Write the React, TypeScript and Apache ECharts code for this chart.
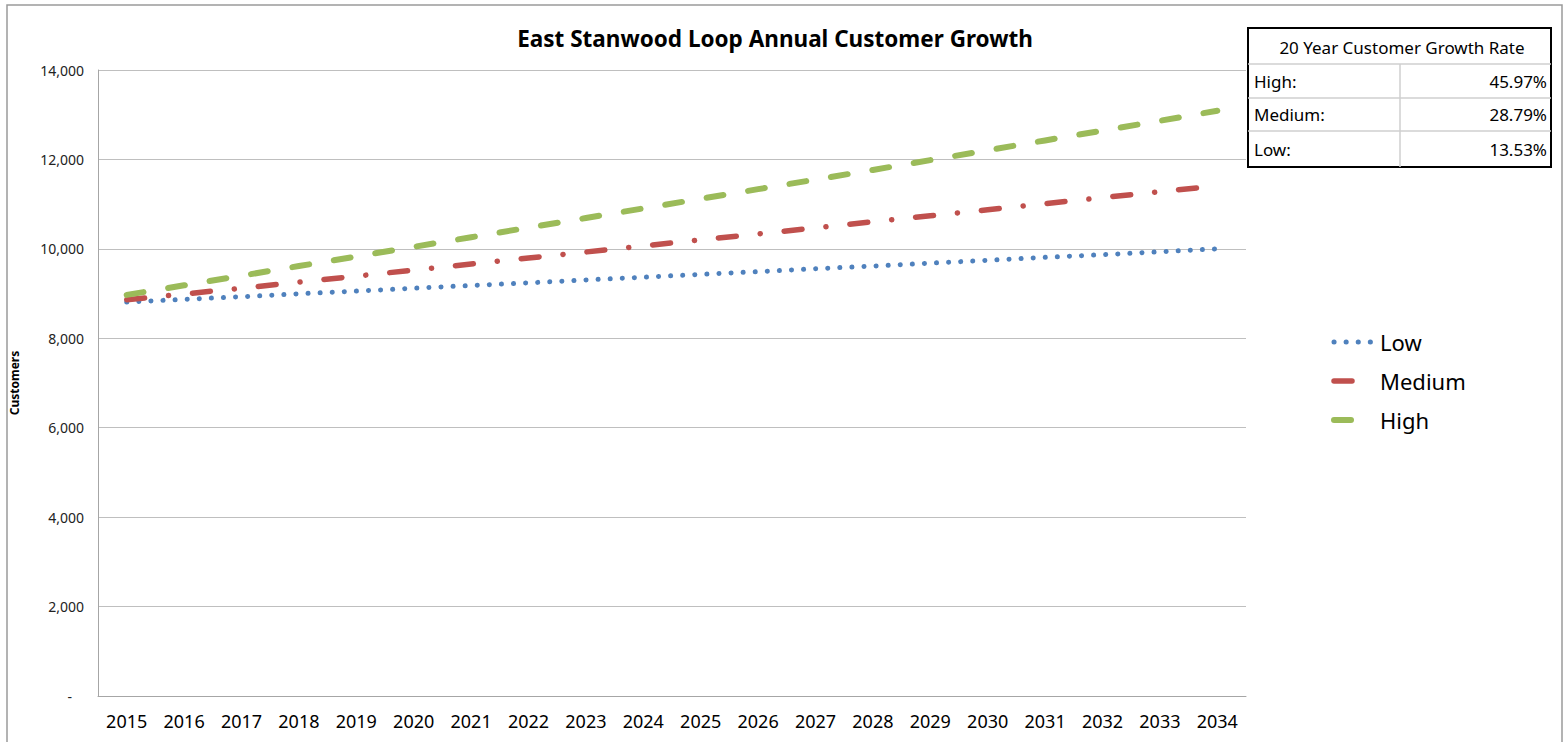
import React, { useEffect, useRef } from "react";
import * as echarts from "echarts";

const years = ["2015","2016","2017","2018","2019","2020","2021","2022","2023","2024","2025","2026","2027","2028","2029","2030","2031","2032","2033","2034"];
const lowValues = [8810, 8870, 8930, 8995, 9055, 9120, 9180, 9240, 9305, 9365, 9430, 9490, 9555, 9615, 9680, 9745, 9810, 9870, 9935, 10000];
const mediumValues = [8860, 8990, 9120, 9255, 9390, 9525, 9660, 9795, 9930, 10065, 10200, 10335, 10470, 10605, 10740, 10875, 11010, 11145, 11280, 11410];
const highValues = [8970, 9185, 9400, 9615, 9830, 10045, 10260, 10475, 10690, 10905, 11120, 11335, 11550, 11765, 11985, 12205, 12425, 12645, 12865, 13090];
const seriesNames = ["Low", "Medium", "High"];
const tableTitle = "20 Year Customer Growth Rate";
const tableLabels = ["High:", "Medium:", "Low:"];
const tableRates = ["45.97%", "28.79%", "13.53%"];

const FONT = "'Noto Sans', sans-serif";
const COLORS = ["#4F81BD", "#C0504D", "#9BBB59"];
const DASHES: number[][] = [[0.1, 12], [18, 24, 0.1, 24], [17, 25]];
const WIDTHS = [5, 5.5, 6];

export default function App() {
  const ref = useRef<HTMLDivElement>(null);
  useEffect(() => {
    if (!ref.current) return;
    const chart = echarts.init(ref.current, null, { renderer: "svg" });

    const tX = 1248, tY = 28, tW = 303, tH = 139;
    const rowY = [64, 98, 131, 167];
    const divX = 1400;
    const graphics: any[] = [
      { type: "rect", shape: { x: 7, y: 5, width: 1555, height: 760 }, style: { fill: "none", stroke: "#9A9A9A", lineWidth: 1.5 }, silent: true },
      { type: "rect", shape: { x: tX, y: tY, width: tW, height: tH }, style: { fill: "#fff", stroke: "#000", lineWidth: 2 }, z: 10 },
      { type: "line", shape: { x1: tX, y1: rowY[0], x2: tX + tW, y2: rowY[0] }, style: { stroke: "#CFCFCF", lineWidth: 1.5 }, z: 11 },
      { type: "line", shape: { x1: tX, y1: rowY[1], x2: tX + tW, y2: rowY[1] }, style: { stroke: "#CFCFCF", lineWidth: 1.5 }, z: 11 },
      { type: "line", shape: { x1: tX, y1: rowY[2], x2: tX + tW, y2: rowY[2] }, style: { stroke: "#CFCFCF", lineWidth: 1.5 }, z: 11 },
      { type: "line", shape: { x1: divX, y1: rowY[0], x2: divX, y2: tY + tH }, style: { stroke: "#CFCFCF", lineWidth: 1.5 }, z: 11 },
      { type: "text", x: 1402, y: 47, style: { text: tableTitle, font: `17px ${FONT}`, fill: "#000", align: "center", verticalAlign: "middle" }, z: 12 },
    ];
    tableLabels.forEach((lab, i) => {
      const cy = (rowY[i] + rowY[i + 1]) / 2;
      graphics.push({ type: "text", x: 1254, y: cy, style: { text: lab, font: `17px ${FONT}`, fill: "#000", align: "left", verticalAlign: "middle" }, z: 12 });
      graphics.push({ type: "text", x: 1547, y: cy, style: { text: tableRates[i], font: `17px ${FONT}`, fill: "#000", align: "right", verticalAlign: "middle" }, z: 12 });
    });

    // legend
    const legendY = [342, 381, 420];
    seriesNames.forEach((name, i) => {
      const x2 = i === 0 ? 1373 : 1354;
      graphics.push({
        type: "line",
        shape: { x1: 1334, y1: legendY[i], x2, y2: legendY[i] },
        style: { stroke: COLORS[i], lineWidth: WIDTHS[i], lineDash: DASHES[i], lineCap: "round" },
        z: 12,
      });
      graphics.push({
        type: "text",
        x: 1380,
        y: legendY[i],
        style: { text: name, font: `22px ${FONT}`, fill: "#000", align: "left", verticalAlign: "middle" },
        z: 12,
      });
    });

    const values = [lowValues, mediumValues, highValues];

    chart.setOption({
      animation: false,
      backgroundColor: "#fff",
      title: {
        text: "East Stanwood Loop Annual Customer Growth",
        left: 770,
        textAlign: "center",
        top: 22,
        textStyle: { fontFamily: FONT, fontSize: 22.5, fontWeight: "bold", color: "#000" },
      },
      grid: { left: 96, right: 319, top: 70, bottom: 46, containLabel: false },
      legend: { show: false, data: seriesNames },
      xAxis: {
        type: "category",
        data: years,
        boundaryGap: true,
        axisTick: { show: false },
        axisLine: { lineStyle: { color: "#A6A6A6", width: 1 } },
        axisLabel: { fontFamily: FONT, fontSize: 18, color: "#000", margin: 16, interval: 0 },
      },
      yAxis: {
        type: "value",
        min: 0,
        max: 14000,
        interval: 2000,
        name: "Customers",
        nameLocation: "middle",
        nameRotate: 90,
        nameGap: 78,
        nameTextStyle: { fontFamily: FONT, fontSize: 12, fontWeight: "bold", color: "#000" },
        axisLine: { show: true, lineStyle: { color: "#A6A6A6", width: 1 } },
        axisTick: { show: false },
        splitLine: { lineStyle: { color: "#BFBFBF", width: 1 } },
        axisLabel: {
          fontFamily: FONT,
          fontSize: 14,
          color: "#222",
          margin: 14,
          formatter: (v: number) => (v === 0 ? "{z|-}" : v.toLocaleString("en-US")),
          rich: { z: { fontFamily: FONT, fontSize: 14, color: "#222", padding: [0, 12, 0, 0] } },
        },
      },
      series: seriesNames.map((name, i) => ({
        name,
        type: "line",
        data: values[i],
        symbol: "none",
        color: COLORS[i],
        lineStyle: { color: COLORS[i], width: WIDTHS[i], type: DASHES[i], cap: "round" },
        z: 3 + i,
      })),
      graphic: graphics,
    });
    return () => chart.dispose();
  }, []);
  return (
    <div style={{ position: "fixed", left: 0, top: 0, width: 1565, height: 742, background: "#fff" }}>
      <div ref={ref} style={{ width: 1565, height: 742 }} />
    </div>
  );
}
